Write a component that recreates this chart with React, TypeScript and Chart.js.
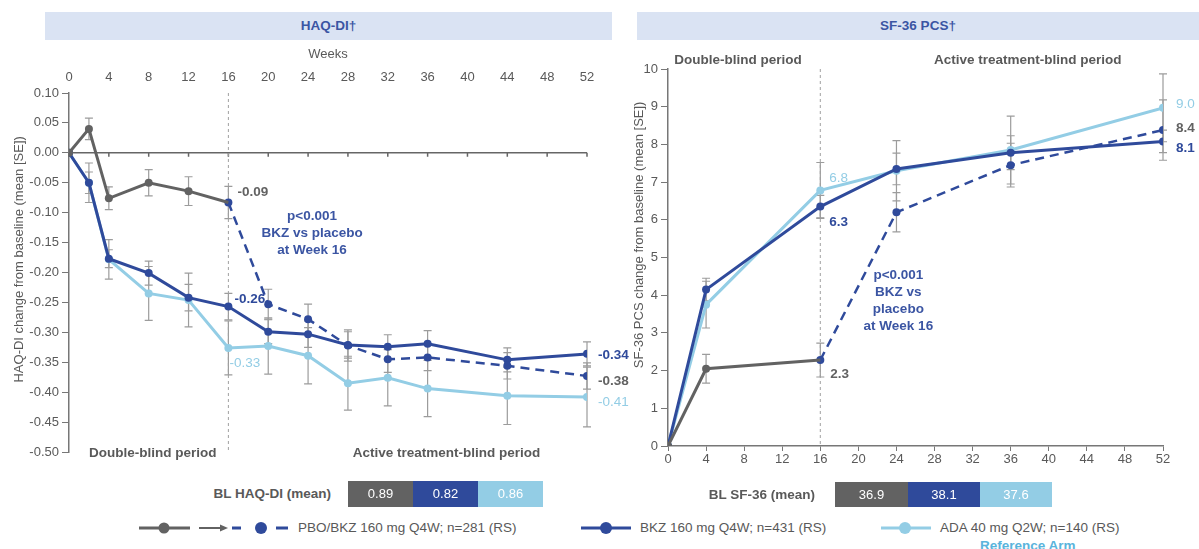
import React, { useEffect, useRef } from "react";
import { Chart, registerables } from "chart.js";
Chart.register(...registerables);

const FONT = '"Liberation Sans", Arial, sans-serif';
const GRAY = "#626262";
const NAVY = "#2f4a9b";
const LIGHT = "#93cde5";
const TEXT = "#595959";
const ERR = "#9c9c9c";
const ANNOT = "#3b55a3";

// ---------- HAQ-DI data ----------
const haqTicks = [0, 4, 8, 12, 16, 20, 24, 28, 32, 36, 40, 44, 48, 52];
const haqWeeks = [0, 2, 4, 8, 12, 16, 20, 24, 28, 32, 36, 44, 52];
const haqPboWeeks = [0, 2, 4, 8, 12, 16];
const haqPbo = [0, 0.04, -0.076, -0.05, -0.064, -0.083];
const haqPboSe = [0, 0.018, 0.019, 0.022, 0.024, 0.027];
const haqSwitchWeeks = [16, 20, 24, 28, 32, 36, 44, 52];
const haqSwitch = [-0.083, -0.253, -0.278, -0.322, -0.345, -0.342, -0.356, -0.373];
const haqSwitchSe = [0, 0.025, 0.025, 0.026, 0.022, 0.022, 0.022, 0.022];
const haqBkz = [0, -0.05, -0.177, -0.201, -0.242, -0.257, -0.299, -0.303, -0.321, -0.324, -0.319, -0.346, -0.336];
const haqBkzSe = [0, 0.018, 0.015, 0.02, 0.022, 0.022, 0.02, 0.022, 0.022, 0.02, 0.022, 0.02, 0.02];
const haqAda = [0, -0.05, -0.178, -0.235, -0.246, -0.326, -0.323, -0.339, -0.385, -0.376, -0.394, -0.406, -0.408];
const haqAdaSe = [0, 0.033, 0.033, 0.045, 0.045, 0.045, 0.047, 0.047, 0.045, 0.047, 0.047, 0.048, 0.05];
const haqLabels = ["-0.09", "-0.26", "-0.33", "-0.34", "-0.38", "-0.41"];
const haqBaseline = ["0.89", "0.82", "0.86"];

// ---------- SF-36 PCS data ----------
const sfTicks = [0, 4, 8, 12, 16, 20, 24, 28, 32, 36, 40, 44, 48, 52];
const sfWeeks = [0, 4, 16, 24, 36, 52];
const sfPboWeeks = [0, 4, 16];
const sfPbo = [0, 2.05, 2.28];
const sfPboSe = [0, 0.38, 0.45];
const sfSwitchWeeks = [16, 24, 36, 52];
const sfSwitch = [2.28, 6.2, 7.45, 8.38];
const sfSwitchSe = [0, 0.52, 0.58, 0.8];
const sfBkz = [0, 4.15, 6.35, 7.35, 7.78, 8.08];
const sfBkzSe = [0, 0.3, 0.3, 0.42, 0.45, 0.3];
const sfAda = [0, 3.75, 6.78, 7.3, 7.85, 8.97];
const sfAdaSe = [0, 0.62, 0.74, 0.8, 0.9, 0.9];
const sfLabels = ["6.8", "6.3", "2.3", "9.0", "8.4", "8.1"];
const sfBaseline = ["36.9", "38.1", "37.6"];

const legendLabels = ["PBO/BKZ 160 mg Q4W; n=281 (RS)", "BKZ 160 mg Q4W; n=431 (RS)", "ADA 40 mg Q2W; n=140 (RS)"];

const zip = (xs: number[], ys: number[]) => xs.map((x, i) => ({ x, y: ys[i] }));

const errorBars = {
  id: "errorBars",
  beforeDatasetsDraw(chart: any) {
    const ctx = chart.ctx;
    const ys = chart.scales.y;
    ctx.save();
    ctx.strokeStyle = ERR;
    ctx.lineWidth = 1.2;
    chart.data.datasets.forEach((ds: any, di: number) => {
      const se = ds.se;
      if (!se) return;
      const meta = chart.getDatasetMeta(di);
      meta.data.forEach((pt: any, i: number) => {
        const e = se[i];
        if (!e) return;
        const v = ds.data[i].y;
        const t = ys.getPixelForValue(v + e);
        const b = ys.getPixelForValue(v - e);
        ctx.beginPath();
        ctx.moveTo(pt.x, t);
        ctx.lineTo(pt.x, b);
        ctx.moveTo(pt.x - 4, t);
        ctx.lineTo(pt.x + 4, t);
        ctx.moveTo(pt.x - 4, b);
        ctx.lineTo(pt.x + 4, b);
        ctx.stroke();
      });
    });
    ctx.restore();
  },
};

const decor = {
  id: "decor",
  beforeDatasetsDraw(chart: any, _a: any, opts: any) {
    const ctx = chart.ctx;
    const xs = chart.scales.x;
    const ys = chart.scales.y;
    const area = chart.chartArea;
    ctx.save();
    if (opts.zeroLine) {
      const y0 = ys.getPixelForValue(0);
      ctx.strokeStyle = "#666";
      ctx.lineWidth = 1.5;
      ctx.beginPath();
      ctx.moveTo(area.left, y0);
      ctx.lineTo(area.right, y0);
      opts.zeroTicks.forEach((w: number) => {
        const x = xs.getPixelForValue(w);
        ctx.moveTo(x, y0);
        ctx.lineTo(x, y0 + 4);
      });
      ctx.stroke();
    }
    const vx = xs.getPixelForValue(opts.vline);
    ctx.strokeStyle = "#a0a0a0";
    ctx.lineWidth = 1;
    ctx.setLineDash([3, 3]);
    ctx.beginPath();
    ctx.moveTo(vx, area.top);
    ctx.lineTo(vx, area.bottom);
    ctx.stroke();
    ctx.restore();
  },
  afterDraw(chart: any, _a: any, opts: any) {
    const ctx = chart.ctx;
    const xs = chart.scales.x;
    const ys = chart.scales.y;
    const area = chart.chartArea;
    ctx.save();
    ctx.textBaseline = "middle";
    // y-axis title
    ctx.save();
    ctx.font = `13px ${FONT}`;
    ctx.fillStyle = TEXT;
    ctx.textAlign = "center";
    ctx.translate(opts.yTitle.x, ys.getPixelForValue(opts.yTitle.value));
    ctx.rotate(-Math.PI / 2);
    ctx.fillText(opts.yTitle.text, 0, 0);
    ctx.restore();
    // point labels
    opts.labels.forEach((l: any) => {
      const pt = chart.getDatasetMeta(l.ds).data[l.i];
      ctx.font = `${l.bold ? "bold " : ""}13.5px ${FONT}`;
      ctx.fillStyle = l.color;
      ctx.textAlign = "left";
      ctx.fillText(l.text, pt.x + l.dx, pt.y + l.dy);
    });
    // period texts
    ctx.font = `bold 13.5px ${FONT}`;
    ctx.fillStyle = TEXT;
    ctx.textAlign = "center";
    opts.periods.forEach((p: any) => {
      const y = opts.periodAt === "bottom" ? area.bottom + 1 : area.top - 9;
      ctx.fillText(p.text, xs.getPixelForValue(p.week), y);
    });
    // annotation
    ctx.fillStyle = ANNOT;
    ctx.font = `bold 13.5px ${FONT}`;
    const ax = xs.getPixelForValue(opts.annot.week);
    const ay = ys.getPixelForValue(opts.annot.value);
    opts.annot.lines.forEach((t: string, i: number) => {
      ctx.fillText(t, ax, ay + i * opts.annot.gap);
    });
    ctx.restore();
  },
};

const tickFont = { family: FONT, size: 13 };

function lineDs(label: string, data: any[], color: string, se: number[], extra: any = {}) {
  return {
    label,
    data,
    borderColor: color,
    backgroundColor: color,
    pointBackgroundColor: color,
    pointBorderColor: color,
    pointRadius: 4,
    pointBorderWidth: 0,
    borderWidth: 3,
    tension: 0,
    se,
    ...extra,
  };
}

function haqConfig(): any {
  const nPbo = haqPboWeeks.length;
  return {
    type: "line",
    data: {
      datasets: [
        lineDs("PBO", zip(haqPboWeeks, haqPbo), GRAY, haqPboSe, {
          pointRadius: (c: any) => (c.dataIndex === nPbo - 1 ? 0 : 4),
        }),
        lineDs("PBO/BKZ", zip(haqSwitchWeeks, haqSwitch), NAVY, haqSwitchSe, { borderDash: [9, 6], borderWidth: 2.5 }),
        lineDs("BKZ", zip(haqWeeks, haqBkz), NAVY, haqBkzSe),
        lineDs("ADA", zip(haqWeeks, haqAda), LIGHT, haqAdaSe),
      ],
    },
    options: {
      animation: false,
      responsive: false,
      layout: { padding: { left: 0, top: 0, right: 48, bottom: 18 } },
      scales: {
        x: {
          type: "linear",
          position: "top",
          min: 0,
          max: 52,
          afterBuildTicks: (s: any) => {
            s.ticks = haqTicks.map((v) => ({ value: v }));
          },
          ticks: { color: TEXT, font: tickFont, padding: 8, autoSkip: false, maxRotation: 0 },
          grid: { display: false, drawTicks: false },
          border: { display: false },
          title: { display: true, text: "Weeks", color: TEXT, font: tickFont, padding: { top: 2, bottom: 0 } },
          afterFit: (s: any) => {
            s.height = 48;
          },
        },
        y: {
          min: -0.5,
          max: 0.1,
          ticks: {
            stepSize: 0.05,
            color: TEXT,
            font: tickFont,
            padding: 3,
            callback: (v: any) => (Math.abs(v) < 1e-9 ? "0.00" : Number(v).toFixed(2)),
          },
          grid: { display: true, drawOnChartArea: false, drawTicks: true, tickLength: 7, color: "#777" },
          border: { color: "#777", width: 1.5 },
          afterFit: (s: any) => {
            s.width = 69;
          },
        },
      },
      plugins: {
        legend: { display: false },
        tooltip: { enabled: false },
        decor: {
          zeroLine: true,
          zeroTicks: haqTicks,
          vline: 16,
          yTitle: { text: "HAQ-DI change from baseline (mean [SE])", x: 19, value: -0.178 },
          labels: [
            { ds: 0, i: 5, text: haqLabels[0], color: GRAY, bold: true, dx: 9, dy: -10 },
            { ds: 2, i: 5, text: haqLabels[1], color: NAVY, bold: true, dx: 6, dy: -7 },
            { ds: 3, i: 5, text: haqLabels[2], color: LIGHT, bold: false, dx: 1, dy: 15 },
            { ds: 2, i: 12, text: haqLabels[3], color: NAVY, bold: true, dx: 11, dy: 1 },
            { ds: 1, i: 7, text: haqLabels[4], color: GRAY, bold: true, dx: 11, dy: 5 },
            { ds: 3, i: 12, text: haqLabels[5], color: LIGHT, bold: false, dx: 11, dy: 5 },
          ],
          periodAt: "bottom",
          periods: [
            { week: 8.4, text: "Double-blind period" },
            { week: 37.9, text: "Active treatment-blind period" },
          ],
          annot: { week: 24.4, value: -0.1056, gap: 17, lines: ["p<0.001", "BKZ vs placebo", "at Week 16"] },
        },
      },
    },
    plugins: [errorBars, decor],
  };
}

function sfConfig(): any {
  const nPbo = sfPboWeeks.length;
  return {
    type: "line",
    data: {
      datasets: [
        lineDs("PBO", zip(sfPboWeeks, sfPbo), GRAY, sfPboSe, {
          pointRadius: (c: any) => (c.dataIndex === nPbo - 1 ? 0 : 4),
        }),
        lineDs("PBO/BKZ", zip(sfSwitchWeeks, sfSwitch), NAVY, sfSwitchSe, { borderDash: [9, 6], borderWidth: 2.5 }),
        lineDs("BKZ", zip(sfWeeks, sfBkz), NAVY, sfBkzSe),
        lineDs("ADA", zip(sfWeeks, sfAda), LIGHT, sfAdaSe),
      ],
    },
    options: {
      animation: false,
      responsive: false,
      layout: { padding: { left: 0, top: 24, right: 36, bottom: 9 } },
      scales: {
        x: {
          type: "linear",
          position: "bottom",
          min: 0,
          max: 52,
          afterBuildTicks: (s: any) => {
            s.ticks = sfTicks.map((v) => ({ value: v }));
          },
          ticks: { color: TEXT, font: tickFont, padding: 1, autoSkip: false, maxRotation: 0 },
          grid: { display: true, drawOnChartArea: false, drawTicks: true, tickLength: 5, color: "#777" },
          border: { color: "#777", width: 1.5 },
          afterFit: (s: any) => {
            s.height = 30;
          },
        },
        y: {
          min: 0,
          max: 10,
          ticks: { stepSize: 1, color: TEXT, font: tickFont, padding: 3 },
          grid: { display: true, drawOnChartArea: false, drawTicks: true, tickLength: 7, color: "#777" },
          border: { color: "#777", width: 1.5 },
          afterFit: (s: any) => {
            s.width = 56;
          },
        },
      },
      plugins: {
        legend: { display: false },
        tooltip: { enabled: false },
        decor: {
          zeroLine: false,
          vline: 16,
          yTitle: { text: "SF-36 PCS change from baseline (mean [SE])", x: 27, value: 5.6 },
          labels: [
            { ds: 3, i: 2, text: sfLabels[0], color: LIGHT, bold: false, dx: 9, dy: -12 },
            { ds: 2, i: 2, text: sfLabels[1], color: NAVY, bold: true, dx: 9, dy: 16 },
            { ds: 0, i: 2, text: sfLabels[2], color: GRAY, bold: true, dx: 10, dy: 14 },
            { ds: 3, i: 5, text: sfLabels[3], color: LIGHT, bold: false, dx: 13, dy: -4 },
            { ds: 1, i: 3, text: sfLabels[4], color: GRAY, bold: true, dx: 13, dy: -2 },
            { ds: 2, i: 5, text: sfLabels[5], color: NAVY, bold: true, dx: 13, dy: 7 },
          ],
          periodAt: "top",
          periods: [
            { week: 7.35, text: "Double-blind period" },
            { week: 37.8, text: "Active treatment-blind period" },
          ],
          annot: { week: 24.2, value: 4.54, gap: 17, lines: ["p<0.001", "BKZ vs", "placebo", "at Week 16"] },
        },
      },
    },
    plugins: [errorBars, decor],
  };
}

function ChartCanvas({ config, left, top, width, height }: any) {
  const ref = useRef<HTMLCanvasElement>(null);
  useEffect(() => {
    const c = new Chart(ref.current as HTMLCanvasElement, config());
    return () => c.destroy();
  }, []);
  return (
    <canvas
      ref={ref}
      width={width}
      height={height}
      style={{ position: "absolute", left, top, width, height }}
    />
  );
}

const abs = (o: any) => ({ position: "absolute" as const, ...o });

function Header({ left, width, text }: any) {
  return (
    <div
      style={abs({
        left,
        top: 12,
        width,
        height: 28,
        background: "#dae3f3",
        color: ANNOT,
        fontWeight: "bold",
        fontSize: 13.5,
        lineHeight: "28px",
        textAlign: "center",
      })}
    >
      {text}
    </div>
  );
}

function Baseline({ labelRight, label, cells, top, height }: any) {
  const colors = [GRAY, NAVY, LIGHT];
  return (
    <>
      <div
        style={abs({
          left: labelRight - 200,
          width: 200,
          top,
          height,
          lineHeight: height + "px",
          textAlign: "right",
          fontWeight: "bold",
          fontSize: 13.5,
          color: TEXT,
        })}
      >
        {label}
      </div>
      {cells.map((c: any, i: number) => (
        <div
          key={i}
          style={abs({
            left: c.x,
            width: c.w,
            top,
            height,
            lineHeight: height + "px",
            background: colors[i],
            color: "#fff",
            textAlign: "center",
            fontSize: 13,
          })}
        >
          {c.t}
        </div>
      ))}
    </>
  );
}

const legendText = (o: any) =>
  abs({ fontSize: 13.5, color: TEXT, lineHeight: "18px", whiteSpace: "nowrap", top: 519, ...o });

export default function App() {
  return (
    <div
      style={{
        position: "absolute",
        left: 0,
        top: 0,
        width: 1199,
        height: 549,
        overflow: "hidden",
        background: "#fff",
        fontFamily: FONT,
      }}
    >
      <Header left={45} width={567} text="HAQ-DI†" />
      <Header left={637} width={562} text="SF-36 PCS†" />
      <ChartCanvas config={haqConfig} left={0} top={45} width={635} height={425} />
      <ChartCanvas config={sfConfig} left={612} top={45} width={587} height={440} />
      <Baseline
        labelRight={331}
        label="BL HAQ-DI (mean)"
        top={481}
        height={26}
        cells={[
          { x: 348, w: 65, t: haqBaseline[0] },
          { x: 413, w: 65, t: haqBaseline[1] },
          { x: 478, w: 65, t: haqBaseline[2] },
        ]}
      />
      <Baseline
        labelRight={815}
        label="BL SF-36 (mean)"
        top={482}
        height={25}
        cells={[
          { x: 835, w: 73, t: sfBaseline[0] },
          { x: 908, w: 72, t: sfBaseline[1] },
          { x: 980, w: 72, t: sfBaseline[2] },
        ]}
      />
      <svg style={abs({ left: 0, top: 510, width: 1199, height: 36 })} width={1199} height={36}>
        <g strokeWidth={3}>
          <line x1={139} y1={18} x2={190} y2={18} stroke={GRAY} />
          <circle cx={164} cy={18} r={5.5} fill={GRAY} />
          <line x1={199} y1={18} x2={222} y2={18} stroke={GRAY} strokeWidth={2} />
          <polygon points="228,18 220,14.5 220,21.5" fill={GRAY} />
          <line x1={232} y1={18} x2={241} y2={18} stroke={NAVY} />
          <circle cx={261} cy={18} r={6} fill={NAVY} />
          <line x1={276} y1={18} x2={288} y2={18} stroke={NAVY} />
          <line x1={581} y1={18} x2={631} y2={18} stroke={NAVY} />
          <circle cx={606} cy={18} r={6} fill={NAVY} />
          <line x1={881} y1={18} x2={931} y2={18} stroke={LIGHT} />
          <circle cx={905} cy={18} r={6} fill={LIGHT} />
        </g>
      </svg>
      <div style={legendText({ left: 298 })}>{legendLabels[0]}</div>
      <div style={legendText({ left: 640 })}>{legendLabels[1]}</div>
      <div style={legendText({ left: 940 })}>{legendLabels[2]}</div>
      <div
        style={abs({
          left: 980,
          top: 538,
          fontSize: 13.5,
          fontWeight: "bold",
          color: "#5ab4dc",
          lineHeight: "16px",
          whiteSpace: "nowrap",
        })}
      >
        Reference Arm
      </div>
    </div>
  );
}
